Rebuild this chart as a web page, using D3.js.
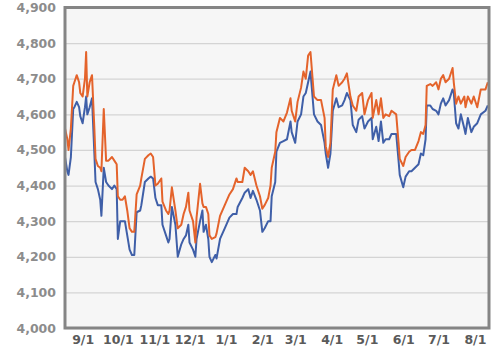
<!DOCTYPE html>
<html>
<head>
<meta charset="utf-8">
<script src="https://cdn.jsdelivr.net/npm/d3@7"></script>
<style>
  html, body { margin: 0; padding: 0; background: #ffffff; }
  #chart { width: 500px; height: 353px; }
  text { font-family: "DejaVu Sans", sans-serif; }
</style>
</head>
<body>
<div id="chart"></div>
<script>
const dates = [
  '2018-08-17','2018-08-19','2018-08-20','2018-08-22','2018-08-24','2018-08-25','2018-08-27','2018-08-29','2018-08-30',
  '2018-09-01','2018-09-03','2018-09-04','2018-09-05','2018-09-07','2018-09-09','2018-09-11','2018-09-12','2018-09-14',
  '2018-09-16','2018-09-17','2018-09-19','2018-09-21','2018-09-23','2018-09-26','2018-09-28','2018-09-30',
  '2018-10-01','2018-10-03','2018-10-05','2018-10-07','2018-10-09','2018-10-11','2018-10-13','2018-10-15','2018-10-17',
  '2018-10-20','2018-10-21','2018-10-24','2018-10-27','2018-10-29','2018-10-31',
  '2018-11-02','2018-11-04','2018-11-07','2018-11-08','2018-11-11','2018-11-13','2018-11-14','2018-11-16','2018-11-19',
  '2018-11-21','2018-11-24','2018-11-26','2018-11-28','2018-11-30',
  '2018-12-01','2018-12-04','2018-12-06','2018-12-07','2018-12-10','2018-12-12','2018-12-13','2018-12-15','2018-12-17',
  '2018-12-18','2018-12-20','2018-12-23','2018-12-24','2018-12-27','2018-12-31',
  '2019-01-04','2019-01-07','2019-01-10','2019-01-11','2019-01-15','2019-01-17','2019-01-20','2019-01-22','2019-01-24',
  '2019-01-27','2019-01-30',
  '2019-02-01','2019-02-03','2019-02-06','2019-02-08','2019-02-09','2019-02-12','2019-02-13','2019-02-16','2019-02-19',
  '2019-02-22','2019-02-25','2019-02-26',
  '2019-03-01','2019-03-03','2019-03-06','2019-03-08','2019-03-10','2019-03-12','2019-03-14','2019-03-17','2019-03-20',
  '2019-03-23','2019-03-26','2019-03-27','2019-03-29','2019-03-31',
  '2019-04-02','2019-04-05','2019-04-07','2019-04-10','2019-04-12','2019-04-14','2019-04-17','2019-04-19','2019-04-22',
  '2019-04-24','2019-04-27','2019-04-29',
  '2019-05-02','2019-05-05','2019-05-06','2019-05-09','2019-05-11','2019-05-13','2019-05-15','2019-05-17','2019-05-20',
  '2019-05-22','2019-05-26','2019-05-28','2019-05-29',
  '2019-06-01','2019-06-03','2019-06-06','2019-06-08','2019-06-11','2019-06-14','2019-06-16','2019-06-18','2019-06-20',
  '2019-06-21','2019-06-24','2019-06-26','2019-06-29',
  '2019-07-01','2019-07-03','2019-07-05','2019-07-07','2019-07-10','2019-07-13','2019-07-14','2019-07-16','2019-07-18',
  '2019-07-20','2019-07-23','2019-07-24','2019-07-26','2019-07-29','2019-07-31',
  '2019-08-03','2019-08-06','2019-08-10','2019-08-12'
];

const upperSeries = [
  4560,4530,4500,4560,4680,4690,4710,4690,4660,
  4650,4700,4775,4650,4690,4710,4560,4475,4455,
  4450,4440,4615,4470,4470,4480,4470,4460,
  4370,4360,4360,4370,4330,4280,4270,4270,4375,
  4400,4420,4475,4485,4490,4480,
  4400,4405,4420,4355,4330,4320,4330,4395,4330,
  4280,4290,4320,4340,4380,
  4330,4300,4240,4310,4405,4350,4340,4340,4320,
  4260,4250,4255,4265,4315,4345,
  4375,4390,4420,4410,4410,4450,4440,4430,4440,
  4400,4370,
  4335,4345,4365,4400,4450,4495,4550,4590,4580,
  4605,4645,4610,
  4580,4635,4675,4720,4700,4765,4775,4650,4640,
  4640,4590,4510,4480,4520,
  4670,4710,4680,4690,4700,4715,4650,4625,4610,
  4650,4660,4600,
  4640,4660,4590,4640,4600,4645,4590,4600,4595,
  4610,4600,4520,4475,
  4455,4480,4495,4500,4500,4525,4550,4545,4570,
  4680,4685,4680,4690,
  4670,4700,4710,4690,4700,4730,4690,4630,4650,
  4630,4650,4620,4650,4630,4650,
  4620,4670,4670,4690
];

const lowerSeries = [
  4480,4440,4430,4480,4615,4620,4635,4620,4595,
  4575,4620,4650,4600,4620,4645,4490,4410,4390,
  4360,4315,4450,4410,4400,4390,4400,4390,
  4250,4300,4300,4300,4260,4220,4205,4205,4325,
  4330,4345,4410,4420,4425,4420,
  4365,4345,4345,4290,4260,4240,4250,4340,4290,
  4200,4235,4250,4260,4290,
  4240,4220,4200,4250,4300,4330,4270,4290,4250,
  4200,4185,4205,4195,4250,4280,
  4310,4320,4320,4340,4365,4380,4390,4365,4385,
  4360,4330,
  4270,4280,4300,4300,4370,4410,4495,4520,4525,
  4530,4580,4550,
  4520,4580,4600,4650,4660,4690,4720,4600,4580,
  4570,4520,4490,4450,4490,
  4610,4645,4620,4625,4640,4660,4640,4570,4550,
  4585,4595,4560,
  4580,4590,4530,4565,4525,4580,4520,4530,4530,
  4545,4545,4470,4430,
  4395,4425,4440,4440,4450,4460,4490,4485,4530,
  4625,4625,4615,4610,
  4600,4630,4645,4625,4640,4670,4660,4575,4560,
  4600,4560,4545,4590,4550,4565,
  4575,4600,4610,4625
];

const yTicks = [4000, 4100, 4200, 4300, 4400, 4500, 4600, 4700, 4800, 4900];
const xTickLabels = ['2018-09-01','2018-10-01','2018-11-01','2018-12-01','2019-01-01','2019-02-01',
  '2019-03-01','2019-04-01','2019-05-01','2019-06-01','2019-07-01','2019-08-01'];

const parse = d3.timeParse('%Y-%m-%d');
const rows = dates.map((d, i) => ({ date: parse(d), upper: upperSeries[i], lower: lowerSeries[i] }));

const width = 500, height = 353;
const plot = { left: 65, right: 489, top: 7.5, bottom: 328 };

const svg = d3.select('#chart')
  .append('svg')
  .attr('width', width)
  .attr('height', height);

const x = d3.scaleTime()
  .domain([parse('2018-08-17'), parse('2019-08-13')])
  .range([plot.left, plot.right]);

const y = d3.scaleLinear()
  .domain([4000, 4900])
  .range([plot.bottom, plot.top]);

// plot background
svg.append('rect')
  .attr('x', plot.left)
  .attr('y', plot.top)
  .attr('width', plot.right - plot.left)
  .attr('height', plot.bottom - plot.top)
  .attr('fill', '#f6f6f6');

// horizontal grid
svg.append('g')
  .attr('transform', `translate(${plot.left},0)`)
  .call(d3.axisLeft(y).tickValues(yTicks).tickSize(-(plot.right - plot.left)).tickFormat(() => ''))
  .call(g => g.select('.domain').remove())
  .selectAll('line')
  .attr('stroke', '#d4d4d4')
  .attr('stroke-width', 1.3);

// y labels
svg.append('g')
  .attr('transform', `translate(${plot.left - 2},0)`)
  .call(d3.axisLeft(y).tickValues(yTicks).tickSize(0).tickPadding(7).tickFormat(d3.format(',')))
  .call(g => g.select('.domain').remove())
  .selectAll('text')
  .style('fill', '#8c8c8c')
  .style('font-size', '12.5px')
  .style('font-weight', 'bold');

// x labels
svg.append('g')
  .attr('transform', `translate(0,${plot.bottom})`)
  .call(d3.axisBottom(x).tickValues(xTickLabels.map(parse)).tickSize(0).tickPadding(7).tickFormat(d3.timeFormat('%-m/%-d')))
  .call(g => g.select('.domain').remove())
  .selectAll('text')
  .style('fill', '#5a5a5a')
  .style('font-size', '12.5px')
  .style('font-weight', 'bold');

const lineLower = d3.line().x(d => x(d.date)).y(d => y(d.lower));
const lineUpper = d3.line().x(d => x(d.date)).y(d => y(d.upper));

svg.append('path')
  .datum(rows)
  .attr('fill', 'none')
  .attr('stroke', '#3f5fa8')
  .attr('stroke-width', 2)
  .attr('stroke-linejoin', 'round')
  .attr('d', lineLower);

svg.append('path')
  .datum(rows)
  .attr('fill', 'none')
  .attr('stroke', '#e4632b')
  .attr('stroke-width', 2)
  .attr('stroke-linejoin', 'round')
  .attr('d', lineUpper);

// frame
svg.append('rect')
  .attr('x', plot.left)
  .attr('y', plot.top)
  .attr('width', plot.right - plot.left)
  .attr('height', plot.bottom - plot.top)
  .attr('fill', 'none')
  .attr('stroke', '#858585')
  .attr('stroke-width', 3);
</script>
</body>
</html>
